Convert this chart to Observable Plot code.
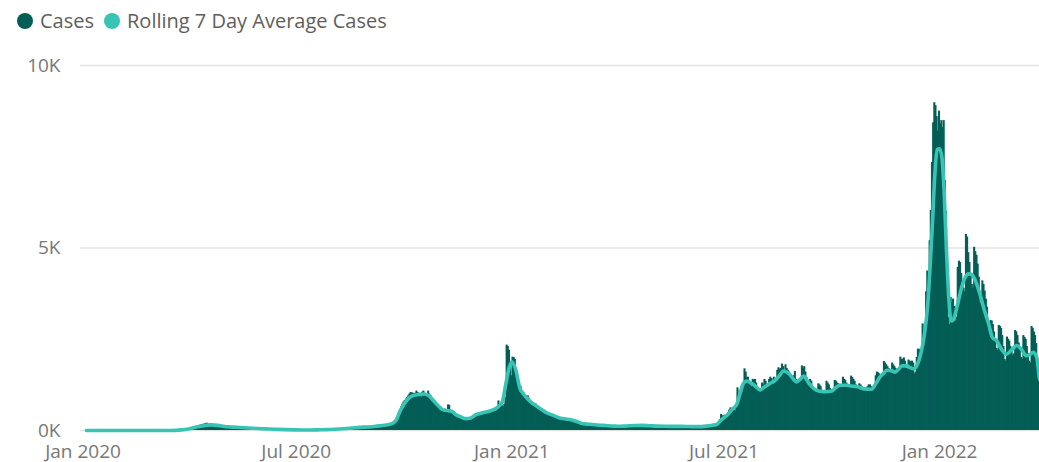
<!DOCTYPE html>
<html>
<head>
<meta charset="utf-8">
<script src="https://cdn.jsdelivr.net/npm/d3@7"></script>
<script src="https://cdn.jsdelivr.net/npm/@observablehq/plot@0.6"></script>
<style>
  html, body { margin: 0; padding: 0; background: #ffffff; }
  body { width: 1039px; height: 462px; overflow: hidden; font-family: 'Open Sans', sans-serif; }
  #legend { height: 40px; }
</style>
</head>
<body>
<div id="legend"></div>
<div id="chart"></div>
<script>
// ---------- DATA ----------
const seriesNames = ["Cases", "Rolling 7 Day Average Cases"];
const yTickValues = [0, 5000, 10000];
const xTickLabels = ["2020-01-01", "2020-07-01", "2021-01-01", "2021-07-01", "2022-01-01"];

// daily cases, one array per month (first date of each array in monthStarts)
const monthStarts = ["2020-01-04","2020-02-01","2020-03-01","2020-04-01","2020-05-01","2020-06-01",
  "2020-07-01","2020-08-01","2020-09-01","2020-10-01","2020-11-01","2020-12-01",
  "2021-01-01","2021-02-01","2021-03-01","2021-04-01","2021-05-01","2021-06-01",
  "2021-07-01","2021-08-01","2021-09-01","2021-10-01","2021-11-01","2021-12-01",
  "2022-01-01","2022-02-01","2022-03-01"];

const jan2020 = [0,0,0,0,0,0,0,0,0,0,0,0,0,0,0,0,0,0,0,0,0,0,0,0,0,0,0,0];
const feb2020 = [0,0,0,0,0,0,0,0,0,0,0,0,0,0,0,0,0,0,0,0,0,0,0,0,0,0,0,0,0];
const mar2020 = [0,0,0,0,0,0,0,0,0,0,0,0,0,0,1,2,3,3,5,6,8,10,12,15,18,22,28,30,35,40,45];
const apr2020 = [50,60,70,80,95,100,110,120,130,140,150,160,170,175,190,200,170,165,190,160,150,150,140,145,130,125,120,115,110,105];
const may2020 = [100,100,98,96,95,95,93,92,92,90,88,86,85,83,80,78,76,75,73,70,68,66,64,62,60,58,57,55,54,52,50];
const jun2020 = [50,48,46,45,44,42,40,39,38,36,35,33,32,30,29,28,27,26,25,24,23,22,21,20,20,19,18,18,17,17];
const jul2020 = [16,16,15,15,15,15,14,14,14,15,15,15,16,16,16,17,17,18,18,19,19,20,20,21,22,22,23,24,25,25,26];
const aug2020 = [28,30,32,33,35,38,40,42,45,47,50,52,55,57,60,62,65,68,72,75,80,82,85,88,90,92,95,96,98,100,100];
const sep2020 = [100,105,110,110,115,120,115,125,130,130,135,140,145,150,150,160,165,170,175,185,190,210,240,280,330,400,480,560,650,720];
const oct2020 = [780,820,860,900,950,1000,1040,1030,1020,1000,1020,1080,1040,980,950,900,1050,1080,1000,980,920,1080,1000,950,880,820,760,720,700,680,650];
const nov2020 = [600,580,560,540,520,500,560,700,690,520,480,470,450,430,420,400,380,360,340,330,320,310,300,320,340,330,350,360,380,400];
const dec2020 = [420,440,460,450,430,470,500,510,480,470,500,520,540,530,520,560,580,600,590,610,810,650,700,680,650,720,900,2340,2300,2200,1700];
const jan2021 = [1500,2010,2000,1950,1500,1300,1150,1050,1200,1000,950,900,880,860,950,880,780,750,720,700,680,720,650,600,580,560,540,520,500,480,460];
const feb2021 = [440,430,420,410,400,390,380,370,360,350,340,335,330,320,320,310,305,300,300,295,290,285,280,270,260,250,240,230];
const mar2021 = [200,195,190,185,180,175,170,168,165,160,158,155,152,150,148,145,142,140,138,135,132,130,128,125,122,120,120,118,116,115,115];
const apr2021 = [115,115,118,120,120,122,125,125,128,130,130,132,135,135,138,140,140,142,142,145,145,145,142,140,138,135,132,130,128,125];
const may2021 = [125,124,122,120,120,118,118,116,116,115,115,115,114,114,113,113,112,112,112,111,111,110,110,110,110,110,110,111,112,113,114];
const jun2021 = [110,112,108,105,95,90,110,115,118,112,108,98,92,120,125,130,128,125,110,105,140,155,165,170,160,150,180,300,440,400];
const jul2021 = [400,420,380,360,480,560,620,600,620,560,540,700,1170,900,1100,1200,1150,1300,1690,1600,1450,1460,1350,1250,1200,1400,1380,1400,1300,1150,1080];
const aug2021 = [1080,1150,1300,1250,1400,1350,1200,1200,1400,1460,1420,1380,1460,1320,1380,1650,1720,1680,1700,1820,1750,1600,1800,1700,1650,1600,1500,1450,1380,1500,1620];
const sep2021 = [1400,1300,1300,1350,1400,1770,1700,1750,1600,1450,1250,1200,1400,1350,1200,1150,1100,1050,1030,1280,1250,1200,1100,1050,1030,1030,1350,1300,1250,1150];
const oct2021 = [1100,1060,1050,1370,1350,1300,1280,1200,1180,1170,1460,1400,1380,1300,1250,1180,1170,1490,1450,1400,1350,1250,1150,1140,1280,1250,1200,1150,1150,1100,1100];
const nov2021 = [1200,1250,1250,1200,1150,1150,1200,1500,1600,1580,1550,1500,1450,1500,1890,1850,1800,1750,1700,1600,1580,1850,1800,1750,1700,1650,1600,1650,2010,1950];
const dec2021 = [1950,1990,1900,1700,1680,1930,1900,1880,1900,1850,1550,1600,2000,2230,2200,2230,2150,2920,2600,2900,3800,4370,4300,5200,6030,7340,8430,8980,8900,8600,8200];
const jan2022 = [8750,8400,8490,8300,8490,6850,6000,4200,3100,2900,3640,3500,3600,3400,3000,3100,4470,4640,4600,4300,4100,3900,3800,5370,5300,4870,4600,4300,4000,3900,5020];
const feb2022 = [4900,4800,4560,4200,3500,3400,4100,4000,3820,3600,3380,2750,2700,3010,3000,2900,2700,2500,2250,2200,2880,2850,2800,2600,2300,1950,1900,2560];
const mar2022 = [2500,2450,2300,2200,2050,2100,2740,2700,2600,2400,2200,2000,1950,2600,2550,2500,2300,2100,1900,1850,2850,2800,2700,2600,2380,1730,1350];

const monthlyCases = [jan2020,feb2020,mar2020,apr2020,may2020,jun2020,jul2020,aug2020,sep2020,oct2020,nov2020,dec2020,
  jan2021,feb2021,mar2021,apr2021,may2021,jun2021,jul2021,aug2021,sep2021,oct2021,nov2021,dec2021,
  jan2022,feb2022,mar2022];

// rolling 7 day average at these dates
const avgDates = ["2020-01-04","2020-02-01","2020-03-01","2020-03-15","2020-03-25","2020-04-01","2020-04-08","2020-04-15","2020-04-20","2020-04-27",
  "2020-05-04","2020-05-11","2020-05-18","2020-05-25","2020-06-01","2020-06-08","2020-06-15","2020-06-22","2020-06-29","2020-07-06",
  "2020-07-13","2020-07-20","2020-07-27","2020-08-03","2020-08-10","2020-08-17","2020-08-24","2020-08-31","2020-09-07","2020-09-14",
  "2020-09-20","2020-09-24","2020-09-28","2020-10-01","2020-10-04","2020-10-08","2020-10-14","2020-10-18","2020-10-22","2020-10-26",
  "2020-10-31","2020-11-03","2020-11-07","2020-11-11","2020-11-14","2020-11-18","2020-11-23","2020-11-27","2020-12-01","2020-12-08",
  "2020-12-14","2020-12-20","2020-12-24","2020-12-27","2020-12-30","2021-01-01","2021-01-04","2021-01-08","2021-01-11","2021-01-14",
  "2021-01-18","2021-01-22","2021-01-27","2021-01-31","2021-02-05","2021-02-10","2021-02-15","2021-02-21","2021-02-26","2021-03-01",
  "2021-03-08","2021-03-15","2021-03-22","2021-03-29","2021-04-02","2021-04-09","2021-04-16","2021-04-22","2021-04-29","2021-05-06",
  "2021-05-13","2021-05-20","2021-05-26","2021-06-02","2021-06-09","2021-06-16","2021-06-22","2021-06-25","2021-06-29","2021-07-01",
  "2021-07-05","2021-07-08","2021-07-12","2021-07-15","2021-07-18","2021-07-21","2021-07-24","2021-07-27","2021-08-01","2021-08-04",
  "2021-08-07","2021-08-10","2021-08-13","2021-08-17","2021-08-21","2021-08-26","2021-08-29","2021-09-01","2021-09-04","2021-09-07",
  "2021-09-11","2021-09-16","2021-09-20","2021-09-24","2021-09-28","2021-10-01","2021-10-04","2021-10-08","2021-10-14","2021-10-18",
  "2021-10-23","2021-10-29","2021-11-04","2021-11-08","2021-11-11","2021-11-14","2021-11-17","2021-11-21","2021-11-24","2021-11-27",
  "2021-11-30","2021-12-04","2021-12-07","2021-12-10","2021-12-13","2021-12-16","2021-12-19","2021-12-22","2021-12-24","2021-12-26",
  "2021-12-28","2021-12-30","2022-01-01","2022-01-03","2022-01-05","2022-01-07","2022-01-09","2022-01-11","2022-01-13","2022-01-16",
  "2022-01-20","2022-01-23","2022-01-26","2022-01-29","2022-01-31","2022-02-04","2022-02-08","2022-02-12","2022-02-15","2022-02-19",
  "2022-02-23","2022-02-27","2022-03-04","2022-03-08","2022-03-12","2022-03-16","2022-03-19","2022-03-22","2022-03-25","2022-03-27"];
const avgValues = [0,0,0,2,18,50,100,145,155,130,
  102,90,77,62,50,40,30,23,18,15,
  15,18,23,33,48,66,85,98,118,145,
  180,270,560,720,850,950,990,1000,960,820,
  650,570,545,520,440,380,325,345,430,490,
  540,640,800,1300,1750,1885,1700,1150,1000,880,
  760,670,560,480,420,350,320,290,240,200,
  170,150,135,120,115,125,135,140,130,120,
  115,112,112,108,105,120,150,170,300,350,
  460,580,720,1035,1310,1355,1300,1240,1110,1180,
  1240,1300,1355,1490,1630,1540,1420,1330,1400,1490,
  1320,1140,1080,1065,1070,1080,1160,1240,1240,1220,
  1200,1140,1130,1300,1460,1560,1650,1640,1600,1680,
  1770,1770,1720,1690,1800,2100,2600,3470,4500,5700,
  7000,7700,7720,7500,6500,4900,3600,3000,3050,3400,
  3930,4200,4290,4260,4150,3790,3330,2920,2560,2450,
  2220,2090,2220,2330,2220,2050,2080,2140,2000,1450];

// ---------- STYLE / LAYOUT ----------
const barColor = "#045E56";
const lineColor = "#38C4B5";
const seriesColors = [barColor, lineColor];
const DAY = 864e5;

// build tables from the arrays
const caseRows = [];
monthStarts.forEach((s, i) => {
  const start = Date.parse(s + "T00:00:00Z");
  monthlyCases[i].forEach((v, j) => caseRows.push({date: new Date(start + j * DAY), cases: v}));
});
const avgRows = avgDates.map((d, i) => ({date: new Date(d + "T00:00:00Z"), avg: avgValues[i]}));
const xTicks = xTickLabels.map(d => new Date(d + "T00:00:00Z"));

// x domain so that Jan 2020 sits at x≈82 and Jan 2022 at x≈939
const pxPerDay = (939 - 82.5) / 731;
const xStart = new Date(Date.UTC(2020, 0, 1) - (82.5 - 80) / pxPerDay * DAY);
const xEnd = new Date(Date.UTC(2022, 0, 1) + (1039 - 939) / pxPerDay * DAY);

// legend
const leg = d3.select("#legend").append("svg").attr("width", 1039).attr("height", 40);
let lx = 17;
seriesNames.forEach((name, i) => {
  leg.append("circle").attr("cx", lx + 8).attr("cy", 21).attr("r", 8).attr("fill", seriesColors[i]);
  const t = leg.append("text").attr("x", lx + 23).attr("y", 28)
    .attr("font-family", "'Open Sans', sans-serif").attr("font-size", 20).attr("fill", "#605E5C").text(name);
  lx += 23 + t.node().getComputedTextLength() + 10;
});

const chart = Plot.plot({
  width: 1039,
  height: 422,
  marginLeft: 80,
  marginRight: 0,
  marginTop: 25,
  marginBottom: 32,
  style: {fontFamily: "'Open Sans', sans-serif", fontSize: "19px", color: "#777777", background: "#ffffff", overflow: "visible"},
  x: {type: "utc", domain: [xStart, xEnd]},
  y: {domain: [0, 10000]},
  marks: [
    Plot.gridY(yTickValues, {stroke: "#e4e4e4", strokeOpacity: 1, strokeWidth: 1.3}),
    Plot.rectY(caseRows, {
      x1: d => new Date(+d.date - DAY / 2),
      x2: d => new Date(+d.date + DAY / 2),
      y1: 0,
      y2: "cases",
      insetLeft: -0.45,
      insetRight: -0.45,
      fill: barColor
    }),
    Plot.line(avgRows, {x: "date", y: "avg", stroke: lineColor, strokeWidth: 3.6, curve: "monotone-x", strokeLinejoin: "round", strokeLinecap: "round"}),
    Plot.axisX(xTicks, {tickSize: 0, tickPadding: 14, tickFormat: d3.utcFormat("%b %Y")}),
    Plot.axisY(yTickValues, {tickSize: 0, tickPadding: 20, tickFormat: d => (d / 1000) + "K"})
  ]
});
document.getElementById("chart").appendChild(chart);
</script>
</body>
</html>
